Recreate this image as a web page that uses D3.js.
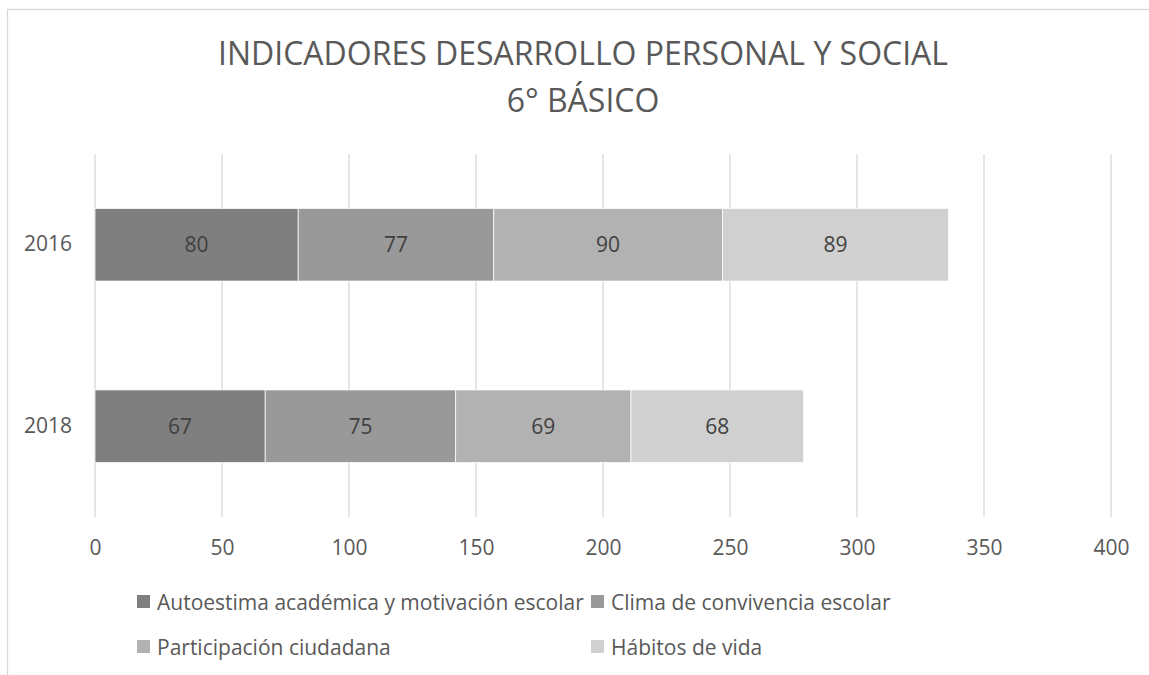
<!DOCTYPE html>
<html>
<head>
<meta charset="utf-8">
<script src="https://cdn.jsdelivr.net/npm/d3@7"></script>
<style>
  body { margin: 0; background: #fff; }
  text { font-family: "Open Sans", sans-serif; }
</style>
</head>
<body>
<svg width="1149" height="675"></svg>
<script>
// Data
var years = ["2016", "2018"];
var series = ["Autoestima académica y motivación escolar", "Clima de convivencia escolar",
              "Participación ciudadana", "Hábitos de vida"];
var autoestima = [80, 67];
var clima = [77, 75];
var participacion = [90, 69];
var habitos = [89, 68];
var xTicks = [0, 50, 100, 150, 200, 250, 300, 350, 400];
var colors = ["#7f7f7f", "#999999", "#b2b2b2", "#d0d0d0"];

var svg = d3.select("svg"),
  width = +svg.attr("width"),
  height = +svg.attr("height");

// chart frame
svg.append("rect")
  .attr("x", 7.5).attr("y", 9.5)
  .attr("width", 1160).attr("height", 700)
  .attr("fill", "#fff")
  .attr("stroke", "#d9d9d9")
  .attr("stroke-width", 1.3);

// title
var title = svg.append("text")
  .attr("text-anchor", "middle")
  .attr("fill", "#595959")
  .style("font-size", "32px");
title.append("tspan").attr("x", 583).attr("y", 65).text("INDICADORES DESARROLLO PERSONAL Y SOCIAL");
title.append("tspan").attr("x", 583).attr("y", 112).text("6° BÁSICO");

// scales
var x = d3.scaleLinear().domain([0, 400]).range([95, 1111]);
var y = d3.scaleBand().domain(years).range([154, 517]).paddingInner(0.6).paddingOuter(0.3);

// gridlines
svg.append("g")
  .selectAll("line")
  .data(xTicks)
  .enter()
  .append("line")
    .attr("x1", function(d) { return x(d); })
    .attr("x2", function(d) { return x(d); })
    .attr("y1", 154).attr("y2", 517)
    .attr("stroke", "#d9d9d9")
    .attr("stroke-width", 1.3);

// x axis labels
var xAxis = svg.append("g")
  .attr("transform", "translate(0,540)")
  .call(d3.axisBottom(x).tickValues(xTicks).tickSize(0).tickPadding(0));
xAxis.select(".domain").remove();
xAxis.selectAll("text")
  .attr("dy", "0.71em")
  .attr("fill", "#595959")
  .style("font-size", "21px")
  .style("font-family", "Open Sans, sans-serif");

// y axis labels
var yAxis = svg.append("g")
  .attr("transform", "translate(72,0)")
  .call(d3.axisLeft(y).tickSize(0).tickPadding(0));
yAxis.select(".domain").remove();
yAxis.selectAll("text")
  .attr("fill", "#595959")
  .style("font-size", "21px")
  .style("font-family", "Open Sans, sans-serif");

// stacked data
var table = years.map(function(yr, i) {
  return { year: yr, s0: autoestima[i], s1: clima[i], s2: participacion[i], s3: habitos[i] };
});
var stack = d3.stack().keys(["s0", "s1", "s2", "s3"])(table);

var groups = svg.append("g")
  .selectAll("g")
  .data(stack)
  .enter()
  .append("g")
    .attr("fill", function(d, i) { return colors[i]; });

groups.selectAll("rect")
  .data(function(d) { return d; })
  .enter()
  .append("rect")
    .attr("x", function(d) { return x(d[0]); })
    .attr("y", function(d) { return y(d.data.year); })
    .attr("width", function(d) { return x(d[1]) - x(d[0]); })
    .attr("height", y.bandwidth())
    .attr("stroke", "#ffffff")
    .attr("stroke-width", 0.75);

groups.selectAll("text")
  .data(function(d) { return d; })
  .enter()
  .append("text")
    .attr("x", function(d) { return (x(d[0]) + x(d[1])) / 2; })
    .attr("y", function(d) { return y(d.data.year) + y.bandwidth() / 2; })
    .attr("dy", "0.35em")
    .attr("text-anchor", "middle")
    .attr("fill", "#404040")
    .style("font-size", "21px")
    .text(function(d) { return d[1] - d[0]; });

// legend
var legendPos = [[137, 595], [591, 595], [137, 640], [591, 640]];
var legend = svg.append("g")
  .selectAll("g")
  .data(series)
  .enter()
  .append("g")
    .attr("transform", function(d, i) { return "translate(" + legendPos[i][0] + "," + legendPos[i][1] + ")"; });
legend.append("rect")
  .attr("width", 13).attr("height", 13)
  .attr("fill", function(d, i) { return colors[i]; });
legend.append("text")
  .attr("x", 20).attr("y", 14.5)
  .attr("fill", "#595959")
  .style("font-size", "21px")
  .text(function(d) { return d; });
</script>
</body>
</html>
